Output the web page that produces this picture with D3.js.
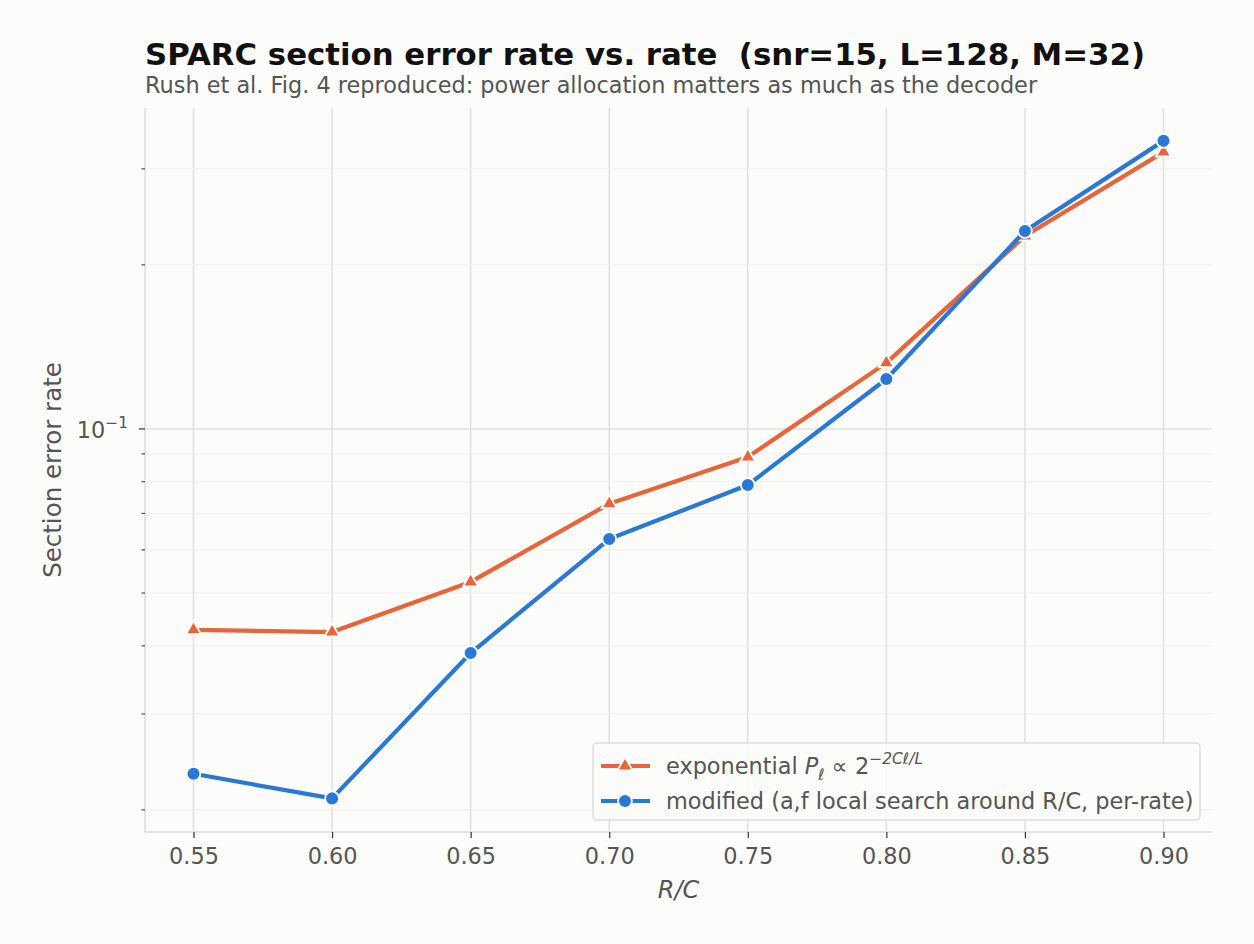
<!DOCTYPE html>
<html>
<head>
<meta charset="utf-8">
<script src="https://cdn.jsdelivr.net/npm/d3@7"></script>
<style>
  body { margin: 0; background: #fcfcfa; }
  svg { font-family: "DejaVu Sans", sans-serif; }
</style>
</head>
<body>
<div id="chart"></div>
<script>
// Data
const rates = [0.55, 0.60, 0.65, 0.70, 0.75, 0.80, 0.85, 0.90];
const expErr = [0.0428, 0.0424, 0.0524, 0.0729, 0.0888, 0.1322, 0.226, 0.322];
const modErr = [0.0233, 0.0210, 0.0388, 0.0628, 0.0789, 0.1235, 0.2308, 0.3377];
const xTicks = [0.55, 0.60, 0.65, 0.70, 0.75, 0.80, 0.85, 0.90];
const yMinor = [0.02, 0.03, 0.04, 0.05, 0.06, 0.07, 0.08, 0.09, 0.2, 0.3];

const W = 1254, H = 944;
const margin = { top: 108, right: 42, bottom: 112, left: 145 };
const width = W - margin.left - margin.right;
const height = H - margin.top - margin.bottom;

const orange = "#e8653a", blue = "#2a78d6", textCol = "#555555";

const svg = d3.select("#chart").append("svg")
  .attr("width", W).attr("height", H);

svg.append("rect").attr("width", W).attr("height", H).attr("fill", "#fcfcfa");

const g = svg.append("g").attr("transform", `translate(${margin.left},${margin.top})`);

// Scales
const x = d3.scaleLinear().domain([0.5325, 0.9175]).range([0, width]);
const y = d3.scaleLog().domain([0.01822, 0.388]).range([height, 0]);

// Grid
g.selectAll(".vgrid").data(xTicks).enter().append("line")
  .attr("x1", d => x(d)).attr("x2", d => x(d))
  .attr("y1", 0).attr("y2", height)
  .attr("stroke", "#e2e2e2").attr("stroke-width", 1.6);
g.selectAll(".mgrid").data(yMinor).enter().append("line")
  .attr("x1", 0).attr("x2", width)
  .attr("y1", d => y(d)).attr("y2", d => y(d))
  .attr("stroke", "#efefef").attr("stroke-width", 1);
g.append("line")
  .attr("x1", 0).attr("x2", width)
  .attr("y1", y(0.1)).attr("y2", y(0.1))
  .attr("stroke", "#e2e2e2").attr("stroke-width", 1.6);

// Spines
g.append("line").attr("x1", 0).attr("x2", 0).attr("y1", 0).attr("y2", height)
  .attr("stroke", "#dddddd").attr("stroke-width", 1.6);
g.append("line").attr("x1", 0).attr("x2", width).attr("y1", height).attr("y2", height)
  .attr("stroke", "#dddddd").attr("stroke-width", 1.6);

// X axis
const xAxis = g.append("g").attr("transform", `translate(0,${height})`)
  .call(d3.axisBottom(x).tickValues(xTicks).tickFormat(d3.format(".2f")).tickSize(6).tickPadding(10));
xAxis.select(".domain").remove();
xAxis.selectAll("line").attr("stroke", "#333").attr("stroke-width", 1.2);
xAxis.selectAll("text").attr("fill", textCol).style("font-size", "22.4px")
  .style("font-family", "DejaVu Sans");

// Y axis: major tick
const yMaj = g.append("g");
yMaj.append("line").attr("x1", -6).attr("x2", 0)
  .attr("y1", y(0.1)).attr("y2", y(0.1)).attr("stroke", "#333").attr("stroke-width", 1.2);
const yl = yMaj.append("text").attr("x", -17).attr("y", y(0.1) + 9)
  .attr("text-anchor", "end").attr("fill", textCol).style("font-size", "22.4px");
yl.append("tspan").text("10");
yl.append("tspan").attr("dy", -10).style("font-size", "15.5px").text("\u22121");

// Y minor ticks
g.selectAll(".ymin").data(yMinor).enter().append("line")
  .attr("x1", -3.5).attr("x2", 0)
  .attr("y1", d => y(d)).attr("y2", d => y(d))
  .attr("stroke", "#333").attr("stroke-width", 1);

// Axis labels
g.append("text").attr("x", width / 2).attr("y", height + 66)
  .attr("text-anchor", "middle").attr("fill", textCol)
  .style("font-size", "24px").style("font-style", "italic").text("R/C");
g.append("text").attr("transform", `translate(-84,${height / 2}) rotate(-90)`)
  .attr("text-anchor", "middle").attr("fill", textCol)
  .style("font-size", "24.5px").text("Section error rate");

// Lines
const series = [
  { vals: expErr, color: orange, shape: d3.symbolTriangle, size: 100 },
  { vals: modErr, color: blue, shape: d3.symbolCircle, size: 150 }
];
const line = d3.line().x(d => x(d[0])).y(d => y(d[1]));

series.forEach(s => {
  const pts = rates.map((r, i) => [r, s.vals[i]]);
  g.append("path").datum(pts).attr("d", line)
    .attr("fill", "none").attr("stroke", s.color).attr("stroke-width", 4.2)
    .attr("stroke-linejoin", "round");
  g.selectAll(null).data(pts).enter().append("path")
    .attr("d", d3.symbol().type(s.shape).size(s.size))
    .attr("transform", d => `translate(${x(d[0])},${y(d[1])})`)
    .attr("fill", s.color).attr("stroke", "#ffffff").attr("stroke-width", 1.8);
});

// Legend
const lg = g.append("g").attr("transform", `translate(${593 - margin.left},${743 - margin.top})`);
lg.append("rect").attr("width", 607).attr("height", 77).attr("rx", 4)
  .attr("fill", "#fcfcfa").attr("fill-opacity", 0.9)
  .attr("stroke", "#dddddd").attr("stroke-width", 1.5);
series.forEach((s, i) => {
  const cy = 23 + i * 35;
  lg.append("line").attr("x1", 8).attr("x2", 57).attr("y1", cy).attr("y2", cy)
    .attr("stroke", s.color).attr("stroke-width", 4.2);
  lg.append("path")
    .attr("d", d3.symbol().type(s.shape).size(s.size))
    .attr("transform", `translate(32,${cy})`)
    .attr("fill", s.color).attr("stroke", "#ffffff").attr("stroke-width", 1.8);
});
const t1 = lg.append("text").attr("x", 73).attr("y", 31).attr("fill", textCol).style("font-size", "22.4px");
t1.append("tspan").text("exponential ");
t1.append("tspan").style("font-style", "italic").text("P");
t1.append("tspan").attr("dy", 6).style("font-size", "15.5px").style("font-style", "italic").text("\u2113");
t1.append("tspan").attr("dy", -6).text(" \u221D 2");
t1.append("tspan").attr("dy", -10).style("font-size", "15.5px").style("font-style", "italic").text("\u22122C\u2113/L");
lg.append("text").attr("x", 73).attr("y", 66).attr("fill", textCol).style("font-size", "22.4px")
  .text("modified (a,f local search around R/C, per-rate)");

// Titles
svg.append("text").attr("x", 145).attr("y", 65).attr("fill", "#111")
  .style("font-size", "30.8px").style("font-weight", "bold")
  .style("white-space", "pre")
  .text("SPARC section error rate vs. rate  (snr=15, L=128, M=32)");
svg.append("text").attr("x", 145).attr("y", 93).attr("fill", textCol)
  .style("font-size", "22.4px")
  .text("Rush et al. Fig. 4 reproduced: power allocation matters as much as the decoder");
</script>
</body>
</html>
